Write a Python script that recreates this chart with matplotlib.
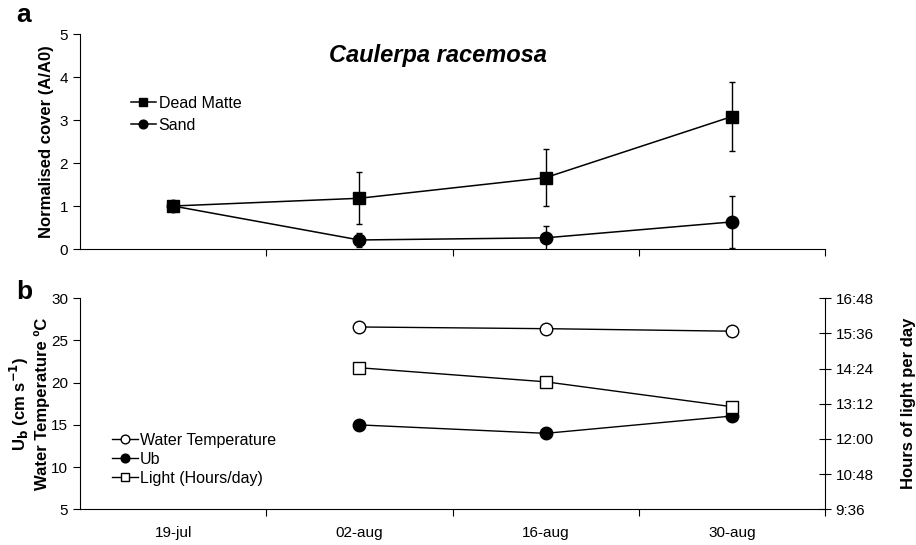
import matplotlib
matplotlib.use('Agg')
import matplotlib.pyplot as plt
import numpy as np
from matplotlib.ticker import FixedLocator, FuncFormatter

plt.rcParams['font.family'] = ['Liberation Sans', 'DejaVu Sans']

# categories (sampling dates)
dates = ['19-jul', '02-aug', '16-aug', '30-aug']

# panel a: normalised cover
dead_matte = [1.0, 1.18, 1.66, 3.08]
dead_matte_err = [0.0, 0.6, 0.67, 0.8]
sand = [1.0, 0.21, 0.26, 0.63]
sand_err = [0.0, 0.17, 0.28, 0.6]

# panel b: environmental variables (no data on 19-jul)
env_dates = ['02-aug', '16-aug', '30-aug']
water_temp = [26.6, 26.4, 26.1]
ub = [15.0, 14.0, 16.05]
light_hours = [14.43, 13.95, 13.10]

x = np.arange(len(dates))
x_env = np.array([dates.index(d) for d in env_dates])

fig = plt.figure(figsize=(9.16, 5.45), dpi=100)
ax1 = fig.add_axes([0.0873, 0.5431, 0.8134, 0.3945])
ax2 = fig.add_axes([0.0873, 0.0655, 0.8134, 0.3872])

TICK_FS = 11
LAB_FS = 12
LEG_FS = 11.5

# ---- panel a ----
# sand first so the dead matte square sits on top at 19-jul
sd = ax1.errorbar(x, sand, yerr=sand_err, color='black', marker='o',
                  markersize=9, lw=1.1, capsize=2.5, elinewidth=1)
dm = ax1.errorbar(x, dead_matte, yerr=dead_matte_err, color='black', marker='s',
                  markersize=9, lw=1.1, capsize=2.5, elinewidth=1)
ax1.set_ylim(0, 5)
ax1.set_yticks(range(0, 6))
ax1.set_xlim(-0.5, 3.5)
ax1.xaxis.set_major_locator(FixedLocator([0.5, 1.5, 2.5, 3.5]))
ax1.set_xticklabels([])
ax1.set_ylabel('Normalised cover (A/A0)', fontsize=LAB_FS, fontweight='bold')
ax1.text(0.48, 0.90, 'Caulerpa racemosa', transform=ax1.transAxes,
         fontsize=17, fontweight='bold', style='italic', ha='center', va='center')
ax1.legend([dm.lines[0], sd.lines[0]], ['Dead Matte', 'Sand'],
           loc='center left', bbox_to_anchor=(0.068, 0.626), frameon=False,
           fontsize=LEG_FS, handlelength=1.6, handletextpad=0.15,
           labelspacing=0.45, borderaxespad=0, borderpad=0, markerscale=0.7)

# ---- panel b ----
l1, = ax2.plot(x_env, water_temp, color='black', marker='o', markersize=9,
               markerfacecolor='white', lw=1, label='Water Temperature')
l2, = ax2.plot(x_env, ub, color='black', marker='o', markersize=9,
               lw=1, label='Ub')
ax2.set_ylim(5, 30)
ax2.set_yticks(range(5, 31, 5))
ax2.set_xlim(-0.5, 3.5)
ax2.xaxis.set_major_locator(FixedLocator([0.5, 1.5, 2.5, 3.5]))
ax2.xaxis.set_major_formatter(FuncFormatter(lambda v, p: ''))
ax2.set_xticks(x, minor=True)
ax2.set_xticklabels(dates, minor=True)
ax2.tick_params(axis='x', which='minor', length=0, pad=12, labelsize=TICK_FS)
ax2.set_ylabel('U$_\\mathbf{b}$ (cm s$^{\\mathbf{-1}}$)\nWater Temperature ºC',
               fontsize=LAB_FS, fontweight='bold', labelpad=1)

ax3 = ax2.twinx()
l3, = ax3.plot(x_env, light_hours, color='black', marker='s', markersize=9,
               markerfacecolor='white', lw=1, label='Light (Hours/day)')
ax3.set_ylim(9.6, 16.8)
ax3.set_yticks(np.arange(9.6, 16.81, 1.2))
ax3.yaxis.set_major_formatter(FuncFormatter(
    lambda v, p: f"{int(v + 1e-6)}:{int(round((v - int(v + 1e-6)) * 60)):02d}"))
ax3.set_ylabel('Hours of light per day', fontsize=LAB_FS, fontweight='bold',
               labelpad=20)

ax2.legend(handles=[l1, l2, l3], loc='center left', bbox_to_anchor=(0.043, 0.238),
           frameon=False, fontsize=LEG_FS, handlelength=1.6, handletextpad=0.15,
           labelspacing=0.25, borderaxespad=0, borderpad=0, markerscale=0.7)

for ax in (ax1, ax2):
    ax.spines['top'].set_visible(False)
    ax.spines['right'].set_visible(False)
    ax.tick_params(axis='both', which='major', direction='out', length=5,
                   labelsize=TICK_FS, color='black')
ax3.spines['top'].set_visible(False)
ax3.spines['left'].set_visible(False)
ax3.spines['bottom'].set_visible(False)
ax3.tick_params(axis='y', direction='inout', length=8, labelsize=TICK_FS)

fig.text(0.018, 0.972, 'a', fontsize=19, fontweight='bold', va='center')
fig.text(0.018, 0.464, 'b', fontsize=19, fontweight='bold', va='center')

fig.savefig('out.png', dpi=100)
